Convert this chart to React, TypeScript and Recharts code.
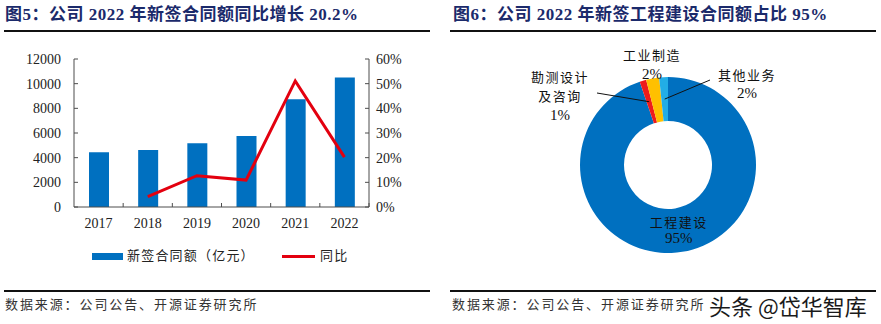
import { ComposedChart, Bar, Line, XAxis, YAxis, PieChart, Pie, Cell } from 'recharts'

// 图5 新签合同额 & 同比
const years = ['2017', '2018', '2019', '2020', '2021', '2022']
const contractValues = [4430, 4620, 5160, 5760, 8730, 10490]
const yoyGrowth = [null, 4.2, 12.7, 10.9, 51.1, 20.2]
const amountTicks = [0, 2000, 4000, 6000, 8000, 10000, 12000]
const growthTicks = [0, 10, 20, 30, 40, 50, 60]

// 图6 2022 年新签合同额结构
const segmentNames = ['工程建设', '勘测设计及咨询', '工业制造', '其他业务']
const segmentShares = [94.8, 1.2, 2.4, 1.6]
const segmentLabelLines = [
  ['工程建设', '95%'],
  ['勘测设计', '及咨询', '1%'],
  ['工业制造', '2%'],
  ['其他业务', '2%'],
]

const barData = years.map((year, i) => ({ year, amount: contractValues[i], yoy: yoyGrowth[i] }))
const pieData = segmentNames.map((name, i) => ({ name, value: segmentShares[i] }))

const BLUE = '#0070C0'
const RED = '#E3000F'
const SLICE_COLORS = [BLUE, '#EE1C1C', '#FFC000', '#22ADE6']
const SERIF = '"Liberation Serif", "Times New Roman", "Noto Sans CJK SC", serif'
const CJK = '"Liberation Serif", "Noto Sans CJK SC", serif'
const TITLE_COLOR = '#1B2A6B'
const AXIS = '#4d4d4d'

// label placement relative to the donut centre (text only)
const labelSpots = [
  { inside: true, dx: 0, dy: 0, gap: 16 },
  { inside: false, dx: -108, dy: -88, gap: 19, lead: [-71, -72] },
  { inside: false, dx: -16, dy: -110, gap: 19 },
  { inside: false, dx: 79, dy: -90, gap: 18, lead: [42, -85] },
]

function YearTick(props: any) {
  const { x, y, payload } = props
  const axisY = y - 11
  const off = payload.offset ?? 0
  return (
    <g>
      <line x1={x + off} y1={axisY} x2={x + off} y2={axisY - 4} stroke={AXIS} />
      <text x={x} y={y} dy="0.71em" textAnchor="middle" fontSize={14} fill="#222" fontFamily={SERIF}>
        {payload.value}
      </text>
    </g>
  )
}

function PieLabel(props: any) {
  const { cx, cy, midAngle, innerRadius, outerRadius, index } = props
  const rad = Math.PI / 180
  const rm = (innerRadius + outerRadius) / 2
  const mx = cx + rm * Math.cos(-midAngle * rad)
  const my = cy + rm * Math.sin(-midAngle * rad)
  const spot = labelSpots[index]
  const lines = segmentLabelLines[index]
  const tx = spot.inside ? mx : cx + spot.dx
  const ty = spot.inside ? my - ((lines.length - 1) * spot.gap) / 2 : cy + spot.dy
  return (
    <g>
      {spot.lead && (
        <line x1={cx + spot.lead[0]} y1={cy + spot.lead[1]} x2={mx} y2={my} stroke="#111" strokeWidth={1} />
      )}
      {lines.map((t, i) => (
        <text
          key={i}
          x={tx}
          y={ty + i * spot.gap}
          textAnchor="middle"
          dominantBaseline="central"
          fontSize={t.includes('%') ? 15 : 13}
          letterSpacing={t.includes('%') ? 0 : 1.5}
          fill="#111"
          fontFamily={SERIF}
        >
          {t}
        </text>
      ))}
    </g>
  )
}

const titleStyle = {
  position: 'absolute' as const,
  top: 5,
  lineHeight: '20px',
  fontSize: 17,
  letterSpacing: 0.5,
  fontWeight: 700,
  color: TITLE_COLOR,
  fontFamily: CJK,
  whiteSpace: 'nowrap' as const,
}

const sourceStyle = {
  position: 'absolute' as const,
  top: 296,
  lineHeight: '18px',
  fontSize: 13,
  letterSpacing: 1.9,
  color: '#333',
  fontFamily: CJK,
  whiteSpace: 'nowrap' as const,
}

const rule = (left: number, top: number, width: number, h = 1.5) => ({
  position: 'absolute' as const,
  left,
  top,
  width,
  height: h,
  background: '#111',
})

export default function App() {
  return (
    <div style={{ position: 'absolute', left: 0, top: 0, width: 881, height: 324, background: '#fff', overflow: 'hidden' }}>
      {/* left panel */}
      <div style={{ ...titleStyle, left: 5 }}>图5：公司 2022 年新签合同额同比增长 20.2%</div>
      <div style={rule(4, 30, 426)} />
      <div style={{ position: 'absolute', left: 0, top: 40 }}>
        <ComposedChart width={440} height={200} data={barData} margin={{ top: 19, right: 0, bottom: 0, left: 0 }}>
          <XAxis
            dataKey="year"
            height={33}
            axisLine={{ stroke: AXIS }}
            tickLine={false}
            tickSize={0}
            tickMargin={11}
            tick={<YearTick />}
            interval={0}
          />
          <YAxis
            yAxisId="amount"
            width={74}
            domain={[0, 12000]}
            ticks={amountTicks}
            interval={0}
            axisLine={{ stroke: AXIS }}
            tickLine={{ stroke: AXIS }}
            tickSize={-4}
            tickMargin={17}
            tick={{ fontSize: 14, fill: '#222', fontFamily: SERIF }}
          />
          <YAxis
            yAxisId="yoy"
            orientation="right"
            width={71}
            domain={[0, 60]}
            ticks={growthTicks}
            interval={0}
            tickFormatter={(v: number) => `${v}%`}
            axisLine={{ stroke: AXIS }}
            tickLine={{ stroke: AXIS }}
            tickSize={-4}
            tickMargin={11}
            tick={{ fontSize: 14, fill: '#222', fontFamily: SERIF }}
          />
          <Bar yAxisId="amount" dataKey="amount" fill={BLUE} barSize={20} isAnimationActive={false} />
          <Line
            yAxisId="yoy"
            dataKey="yoy"
            stroke={RED}
            strokeWidth={3}
            dot={false}
            type="linear"
            isAnimationActive={false}
          />
        </ComposedChart>
      </div>
      {/* legend */}
      <div style={{ position: 'absolute', left: 92, top: 253, width: 31, height: 7, background: BLUE }} />
      <div style={{ position: 'absolute', left: 127, top: 247, lineHeight: '18px', fontSize: 13, letterSpacing: 1.2, color: '#222', fontFamily: CJK, whiteSpace: 'nowrap' }}>
        新签合同额（亿元）
      </div>
      <div style={{ position: 'absolute', left: 282, top: 255, width: 33, height: 3, background: RED }} />
      <div style={{ position: 'absolute', left: 320, top: 247, lineHeight: '18px', fontSize: 13, letterSpacing: 1.2, color: '#222', fontFamily: CJK, whiteSpace: 'nowrap' }}>
        同比
      </div>
      <div style={rule(4, 290, 426)} />
      <div style={{ ...sourceStyle, left: 5 }}>数据来源：公司公告、开源证券研究所</div>

      {/* right panel */}
      <div style={{ ...titleStyle, left: 453 }}>图6：公司 2022 年新签工程建设合同额占比 95%</div>
      <div style={rule(450, 30, 426)} />
      <div style={{ position: 'absolute', left: 440, top: 40 }}>
        <PieChart width={441} height={240}>
          <Pie
            data={pieData}
            dataKey="value"
            nameKey="name"
            cx={223}
            cy={120}
            innerRadius={44}
            outerRadius={88}
            startAngle={90}
            endAngle={-270}
            stroke="none"
            labelLine={false}
            label={PieLabel}
            isAnimationActive={false}
          >
            {pieData.map((d, i) => (
              <Cell key={d.name} fill={SLICE_COLORS[i]} />
            ))}
          </Pie>
        </PieChart>
      </div>
      <div style={rule(450, 290, 426)} />
      <div style={{ ...sourceStyle, left: 452 }}>数据来源：公司公告、开源证券研究所</div>
      <div style={{ position: 'absolute', left: 709, top: 291, lineHeight: '28px', fontSize: 22, color: '#1a1a1a', fontFamily: '"Noto Sans CJK SC", sans-serif', whiteSpace: 'nowrap' }}>
        头条 @岱华智库
      </div>
    </div>
  )
}
